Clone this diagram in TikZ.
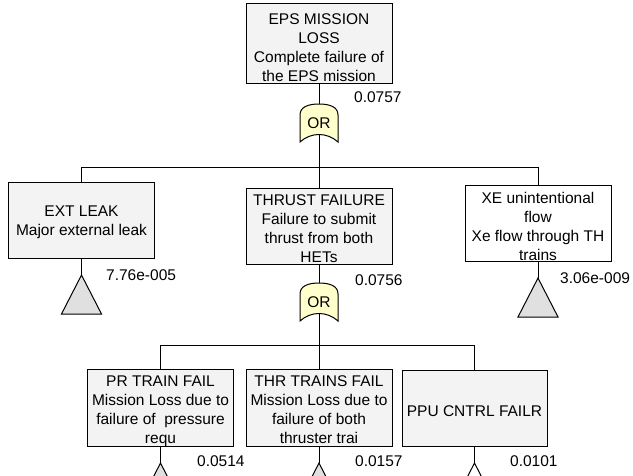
\documentclass[tikz,border=0pt]{standalone}
\usepackage{fontspec}
\setmainfont{Liberation Sans}
\definecolor{boxgray}{RGB}{243,243,243}
\definecolor{trigray}{RGB}{224,224,224}
\definecolor{gateyellow}{RGB}{255,255,204}
\begin{document}
\begin{tikzpicture}[x=1pt,y=-1pt,
  box/.style={draw=black, line width=1pt, fill=boxgray, minimum width=146pt, inner sep=0pt},
  whitebox/.style={box, fill=white},
  txt/.style={font=\fontsize{15.5}{19}\selectfont, inner sep=0pt, align=center},
  num/.style={font=\fontsize{15.5}{19}\selectfont, inner sep=0pt, anchor=base west},
  conn/.style={draw=black, line width=1pt},
  tri/.style={draw=black, line width=1pt, fill=trigray, line join=miter},
  whitetri/.style={tri, fill=white},
  gateshape/.style={draw=black, line width=1pt, fill=gateyellow},
  gatenode/.style={minimum width=38pt, minimum height=38pt, inner sep=0pt, draw=none}
]
\useasboundingbox (0,0) rectangle (633,475);

% ---------- boxes ----------
\node[box, minimum height=80pt] (top) at (319,43) {};
\node[box, minimum height=76pt] (ext) at (81.5,220) {};
\node[box, minimum height=76pt] (thrust) at (319,226) {};
\node[whitebox, minimum height=76pt] (xe) at (538,223) {};
\node[box, minimum height=77pt] (pr) at (160.5,407.5) {};
\node[box, minimum height=77pt] (thr) at (319,407.5) {};
\node[box, minimum height=76pt, minimum width=145pt] (ppu) at (474.5,408) {};

% ---------- gates ----------
\path[gateshape] (300,142) -- (300,115) .. controls (300,107) and (308,104) .. (319,104)
  .. controls (330,104) and (338,107) .. (338,115) -- (338,142)
  .. controls (327,132) and (311,132) .. cycle;
\node[gatenode] (g1) at (319,123) {};
\node[txt, anchor=base] (g1t) at (319,128) {OR};

\path[gateshape] (300,321) -- (300,294) .. controls (300,286) and (308,283) .. (319,283)
  .. controls (330,283) and (338,286) .. (338,294) -- (338,321)
  .. controls (327,311) and (311,311) .. cycle;
\node[gatenode] (g2) at (319,302) {};
\node[txt, anchor=base] (g2t) at (319,307) {OR};

% ---------- bus coordinates ----------
\coordinate (bus1) at (319,167);
\coordinate (bus2) at (319,345);

% ---------- triangles ----------
\coordinate (t1) at (81.5,275);
\coordinate (t2) at (538,278);
\coordinate (t3) at (160.5,463);
\coordinate (t4) at (319,463);
\coordinate (t5) at (474.5,463);
\path[tri] (t1) -- ++(-20,39) -- ++(40,0) -- cycle;
\path[tri] (t2) -- ++(-20,39) -- ++(40,0) -- cycle;
\begin{scope}
\clip (0,0) rectangle (633,475);
\path[tri] (t3) -- ++(-20,39) -- ++(40,0) -- cycle;
\path[tri] (t4) -- ++(-20,39) -- ++(40,0) -- cycle;
\path[whitetri] (t5) -- ++(-20,39) -- ++(40,0) -- cycle;
\end{scope}

% ---------- connectors ----------
\draw[conn] (top.south) -- (g1.north);
\draw[conn] ([yshift=8pt]g1.south) -- (bus1);
\draw[conn] (ext.north) -- (ext.north |- bus1) -- (xe.north |- bus1) -- (xe.north);
\draw[conn] (bus1) -- (thrust.north);
\draw[conn] (thrust.south) -- (g2.north);
\draw[conn] ([yshift=8pt]g2.south) -- (bus2);
\draw[conn] (pr.north) -- (pr.north |- bus2) -- (ppu.north |- bus2) -- (ppu.north);
\draw[conn] (bus2) -- (thr.north);
\draw[conn] (ext.south) -- (t1);
\draw[conn] (xe.south) -- (t2);
\draw[conn] (pr.south) -- (t3);
\draw[conn] (thr.south) -- (t4);
\draw[conn] (ppu.south) -- (t5);

% ---------- texts ----------
\node[txt, anchor=north] (topT) at (319,13.7) {EPS MISSION\\LOSS\\Complete failure of\\the EPS mission};
\node[txt, anchor=north] (extT) at (81.5,205.2) {EXT LEAK\\Major external leak};
\node[txt, anchor=north] (thrustT) at (319,194.7) {THRUST FAILURE\\Failure to submit\\thrust from both\\HETs};
\node[txt, anchor=north] (xeT) at (538,191.7) {XE unintentional\\flow\\Xe flow through TH\\trains};
\node[txt, anchor=north] (prT) at (160.5,375.7) {PR TRAIN FAIL\\Mission Loss due to\\failure of~ pressure\\requ};
\node[txt, anchor=north] (thrT) at (319,375.7) {THR TRAINS FAIL\\Mission Loss due to\\failure of both\\thruster trai};
\node[txt, anchor=base] (ppuT) at (474.5,416) {PPU CNTRL FAILR};

% ---------- probabilities ----------
\node[num] (p1) at (354,102) {0.0757};
\node[num] (p2) at (106,280) {7.76e-005};
\node[num] (p3) at (355,285) {0.0756};
\node[num] (p4) at (560,283) {3.06e-009};
\node[num] (p5) at (197,466) {0.0514};
\node[num] (p6) at (355,466) {0.0157};
\node[num] (p7) at (510,466) {0.0101};
\end{tikzpicture}
\end{document}
